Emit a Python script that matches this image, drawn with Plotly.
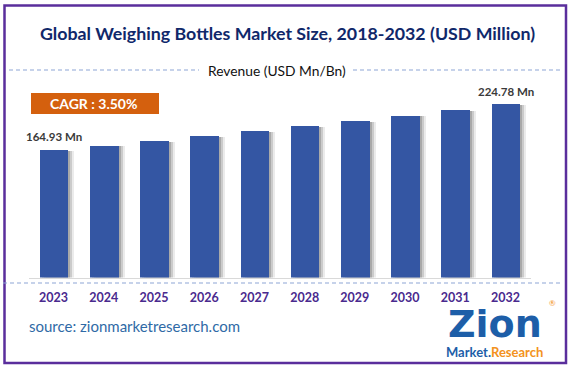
import plotly.graph_objects as go

years = ["2023", "2024", "2025", "2026", "2027", "2028", "2029", "2030", "2031", "2032"]
revenue = [164.93, 170.70, 176.68, 182.86, 189.26, 195.89, 202.74, 209.84, 217.18, 224.78]
first_label = "164.93 Mn"
last_label = "224.78 Mn"
title_text = "Global Weighing Bottles Market Size, 2018-2032 (USD Million)"
legend_text = "Revenue (USD Mn/Bn)"
cagr_text = "CAGR : 3.50%"
source_text = "source: zionmarketresearch.com"

W, H = 571, 368
FONT = "Lato"
BAR_W = 0.57

fig = go.Figure()

# soft shadows on the right side of the bars
for off, alpha in [(0.04, 0.30), (0.08, 0.22), (0.12, 0.12)]:
    fig.add_trace(go.Bar(
        x=years, y=[v * 0.995 for v in revenue], width=BAR_W, offset=-BAR_W / 2 + off,
        marker=dict(color=f"rgba(90,90,90,{alpha})", line=dict(width=0)),
        hoverinfo="skip", showlegend=False))

fig.add_trace(go.Bar(
    x=years, y=revenue, width=BAR_W, offset=-BAR_W / 2,
    marker=dict(color="#3456a3", line=dict(width=0)),
    showlegend=False))

px = lambda x: x / W
py = lambda y: 1 - y / H

DASH = dict(color="#8ea6d6", width=1.2, dash="4px,3px")
FRAME = dict(color="#5a2e9c", width=2.5)


def pline(x0, y0, x1, y1, line):
    return dict(type="line", xref="paper", yref="paper", x0=px(x0), x1=px(x1),
                y0=py(y0), y1=py(y1), line=line, layer="above")


shapes = [
    dict(type="rect", xref="paper", yref="paper", x0=px(4.5), x1=px(566), y0=py(363), y1=py(5.5),
         line=FRAME, fillcolor="rgba(0,0,0,0)", layer="above"),
    pline(9, 70, 199, 70, DASH),
    pline(353, 70, 561, 70, DASH),
    pline(3, 283, 562, 283, DASH),
    dict(type="rect", xref="paper", yref="paper", x0=px(31), x1=px(159), y0=py(114), y1=py(93),
         line=dict(width=0), fillcolor="#d4600e"),
]

annotations = [
    dict(text=f"<b>{title_text}</b>", xref="paper", yref="paper", x=px(287), y=py(33),
         showarrow=False, font=dict(family=FONT, size=17.8, color="#10286a"), xanchor="center", yanchor="middle"),
    dict(text=legend_text, xref="paper", yref="paper", x=px(277), y=py(70),
         showarrow=False, font=dict(family=FONT, size=13.8, color="#111111"), xanchor="center", yanchor="middle"),
    dict(text=f"<b>{cagr_text}</b>", xref="paper", yref="paper", x=px(93), y=py(103.5),
         showarrow=False, font=dict(family=FONT, size=14, color="white"), xanchor="center", yanchor="middle"),
    dict(text=f"<b>{first_label}</b>", xref="x", yref="y", x=0, y=revenue[0],
         yshift=5, showarrow=False, font=dict(family=FONT, size=11.5, color="#3a3a3a"),
         xanchor="center", yanchor="bottom"),
    dict(text=f"<b>{last_label}</b>", xref="x", yref="y", x=len(years) - 1, y=revenue[-1],
         yshift=4, showarrow=False, font=dict(family=FONT, size=11.5, color="#3a3a3a"),
         xanchor="center", yanchor="bottom"),
    dict(text=source_text, xref="paper", yref="paper", x=px(27), y=py(326),
         showarrow=False, font=dict(family=FONT, size=15, color="#2f6aa6"), xanchor="left", yanchor="middle"),
    dict(text="<b>Zion</b>", xref="paper", yref="paper", x=px(495), y=py(324),
         showarrow=False, font=dict(family="DejaVu Sans", size=38, color="#1d5ea8"), xanchor="center", yanchor="middle"),
    dict(text="<b><span style='color:#1d5ea8'>Market.</span><span style='color:#f39220'>Research</span></b>",
         xref="paper", yref="paper", x=px(494), y=py(352),
         showarrow=False, font=dict(family=FONT, size=13, color="#1d5ea8"), xanchor="center", yanchor="middle"),
    dict(text="®", xref="paper", yref="paper", x=px(552), y=py(303),
         showarrow=False, font=dict(family=FONT, size=8, color="#f39220"), xanchor="center", yanchor="middle"),
]

fig.update_layout(
    width=W, height=H,
    margin=dict(l=0, r=0, t=0, b=0),
    paper_bgcolor="white", plot_bgcolor="white",
    barmode="overlay",
    bargap=0,
    shapes=shapes, annotations=annotations,
    xaxis=dict(domain=[28.5 / W, 530.6 / W], range=[-0.5, 9.5], type="category",
               showgrid=False, zeroline=False, showline=True, linecolor="#d9d9d9", linewidth=1,
               ticks="", tickfont=dict(family=FONT, size=12.5, color="#4a2a8e"),
               tickprefix="<b>", ticksuffix="</b>", ticklabelstandoff=8),
    yaxis=dict(domain=[1 - 277.5 / H, 1 - 60 / H], range=[0, (277.5 - 60) / 0.7719],
               visible=False, showgrid=False, zeroline=False),
)

fig.write_html("out.html", config={"displayModeBar": False},
               post_script="document.body.style.margin='0';document.body.style.padding='0';")
